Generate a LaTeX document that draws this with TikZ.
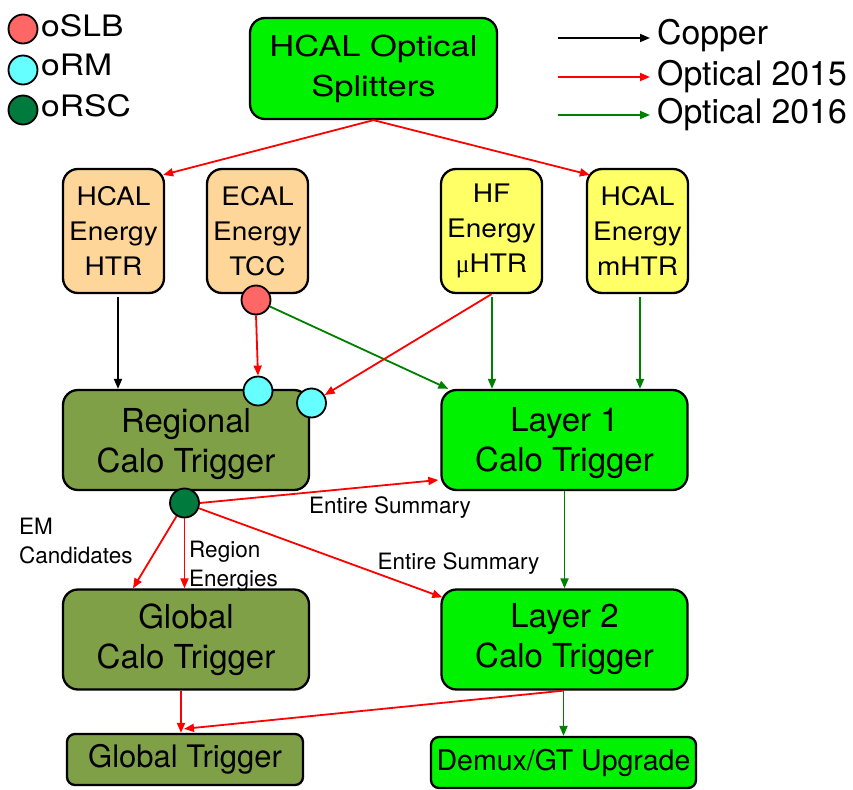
\documentclass[tikz,border=0pt]{standalone}
\usepackage{fontspec}
\setmainfont{TeX Gyre Heros}
\newfontfamily\widefont{TeX Gyre Heros}[FakeStretch=1.2]
\newfontfamily\keyfont{TeX Gyre Heros}[FakeStretch=1.14]
\newfontfamily\midfont{TeX Gyre Heros}[FakeStretch=1.1]
\newfontfamily\greekfont{Liberation Serif}
\usetikzlibrary{arrows.meta,calc}

\definecolor{brightgreen}{RGB}{0,242,0}
\definecolor{peach}{RGB}{255,214,153}
\definecolor{lightyellow}{RGB}{255,255,102}
\definecolor{olive}{RGB}{128,160,72}
\definecolor{slbred}{RGB}{255,102,102}
\definecolor{rmcyan}{RGB}{102,255,255}
\definecolor{rscgreen}{RGB}{0,122,61}
\definecolor{optred}{RGB}{255,0,0}
\definecolor{optgreen}{RGB}{0,128,0}

\begin{document}
\begin{tikzpicture}[x=1pt,y=-1pt,
  box/.style={draw=black, line width=2.3pt, rounded corners=15pt, align=center, inner sep=0pt},
  smallbox/.style={box, minimum width=101pt, minimum height=124pt,
    font=\midfont\fontsize{25.5}{35}\selectfont},
  bigbox/.style={box, minimum width=246pt, minimum height=100pt,
    font=\fontsize{33}{40}\selectfont},
  boxtext/.style={inner sep=0pt, align=center, font=\fontsize{33}{40}\selectfont},
  port/.style={circle, draw=black, line width=1.8pt, minimum size=29pt, inner sep=0pt},
  link/.style={line width=1.8pt, -{Triangle[length=10pt,width=8pt]}},
  copper/.style={link, draw=black},
  opt15/.style={link, draw=optred},
  opt16/.style={link, draw=optgreen},
  lbl/.style={inner sep=0pt, align=left, font=\fontsize{22.5}{29}\selectfont},
  legtext/.style={inner sep=0pt, anchor=base west}
]
\useasboundingbox (0,0) rectangle (853,789);

% ---- boxes ----
\node[box, fill=brightgreen, minimum width=247pt, minimum height=101pt,
  font=\widefont\fontsize{28.8}{40}\selectfont] (split) at (373.5,68.5) {HCAL Optical\\Splitters};

\node[smallbox, fill=peach] (htr) at (113.5,231) {HCAL\\Energy\\HTR};
\node[smallbox, fill=peach] (tcc) at (257.5,231) {ECAL\\Energy\\TCC};
\node[smallbox, fill=lightyellow] (uhtr) at (491.5,231) {HF\\Energy\\{\greekfont μ}HTR};
\node[smallbox, fill=lightyellow] (mhtr) at (637.5,231) {HCAL\\Energy\\mHTR};

\node[bigbox, fill=olive] (rct) at (186,440) {};
\node[boxtext] (rcttext) at ($(rct.center)+(0,4)$) {Regional\\Calo Trigger};
\node[bigbox, fill=brightgreen] (l1) at (564.5,440) {};
\node[boxtext] (l1text) at ($(l1.center)+(0,3)$) {Layer 1\\Calo Trigger};
\node[bigbox, fill=olive] (gct) at (186,639.5) {Global\\Calo Trigger};
\node[bigbox, fill=brightgreen] (l2) at (564.5,639.5) {Layer 2\\Calo Trigger};

\node[box, fill=olive, rounded corners=8pt, minimum width=236pt, minimum height=51pt,
  font=\fontsize{31}{36}\selectfont] (gt) at (185,759.5) {Global Trigger};
\node[box, fill=brightgreen, rounded corners=8pt, minimum width=265pt, minimum height=51pt,
  font=\fontsize{28.5}{34}\selectfont] (demux) at (563.5,762.5) {Demux/GT Upgrade};

% ---- optical links (circles) ----
\node[port, fill=slbred] (slb) at (256,300) {};
\node[port, fill=rmcyan] (rma) at (258,391) {};
\node[port, fill=rmcyan] (rmb) at (311.5,403) {};
\node[port, fill=rscgreen] (rsc) at (184.5,503) {};

% ---- connectors ----
\draw[opt15] (split.south) -- ($(htr.north east)+(-2,7)$);
\draw[opt15] (split.south) -- ($(mhtr.north west)+(4,7)$);

\coordinate (h1) at ($(htr.south)+(4.5,3)$);
\draw[copper] (h1) -- (h1 |- rct.north);

\draw[opt15] (slb.south) -- (rma.north);
\draw[opt16] (slb.-25) -- ($(l1.north west)+(8,0)$);
\draw[opt15] (uhtr.south) -- (rmb);

\coordinate (u1) at ($(uhtr.south)+(0.5,3)$);
\draw[opt16] (u1) -- (u1 |- l1.north);
\coordinate (m1) at ($(mhtr.south)+(2.5,3)$);
\draw[opt16] (m1) -- (m1 |- l1.north);

\draw[opt16] (l1.south) -- (l2.north);

\draw[opt15] (rsc) -- ($(gct.north)+(-53,0)$);
\draw[opt15] (rsc.south) -- (rsc.south |- gct.north);
\draw[opt15] (rsc.east) -- ($(l1.west)+(-2,40)$);
\draw[opt15] (rsc) -- ($(l2.north west)+(2,9)$);

\coordinate (g1) at ($(gct.south)+(-5,0)$);
\draw[opt15] (g1) -- (g1 |- gt.north);
\draw[opt15] ($(l2.south)+(-1,0)$) -- ($(gt.north)+(-1,-4)$);
\coordinate (d1) at ($(l2.south)+(-1,0)$);
\draw[opt16] (d1) -- (d1 |- demux.north);

% ---- connector labels ----
\node[lbl, anchor=base west] (emlbl) at (19,563) {EM\\Candidates};
\node[lbl, anchor=base west] (reglbl) at (189,586) {Region\\Energies};
\node[lbl, anchor=base west] (sum1) at (309,513) {Entire Summary};
\node[lbl, anchor=base west] (sum2) at (377.5,569) {Entire Summary};

% ---- legend: circles ----
\node[port, fill=slbred] (kslb) at (23,29) {};
\node[port, fill=rmcyan] (krm) at (23,70) {};
\node[port, fill=rscgreen] (krsc) at (23,110) {};
\node[legtext, font=\keyfont\fontsize{29.5}{34}\selectfont] (tslb) at (41,37) {oSLB};
\node[legtext, font=\keyfont\fontsize{29.5}{34}\selectfont] (trm) at (41,76) {oRM};
\node[legtext, font=\keyfont\fontsize{29.5}{34}\selectfont] (trsc) at (41,117) {oRSC};

% ---- legend: link types ----
\coordinate (ka) at (558,38);  \coordinate (kb) at (650,38);
\coordinate (kc) at (558,77);  \coordinate (kd) at (650,77);
\coordinate (ke) at (558,115); \coordinate (kf) at (650,115);
\draw[copper] (ka) -- (kb);
\draw[opt15] (kc) -- (kd);
\draw[opt16] (ke) -- (kf);
\node[legtext, font=\fontsize{33.8}{38}\selectfont] (tcop) at (657,45) {Copper};
\node[legtext, font=\fontsize{33.8}{38}\selectfont] (t15) at (657,86) {Optical 2015};
\node[legtext, font=\fontsize{33.8}{38}\selectfont] (t16) at (657,124) {Optical 2016};
\end{tikzpicture}
\end{document}
